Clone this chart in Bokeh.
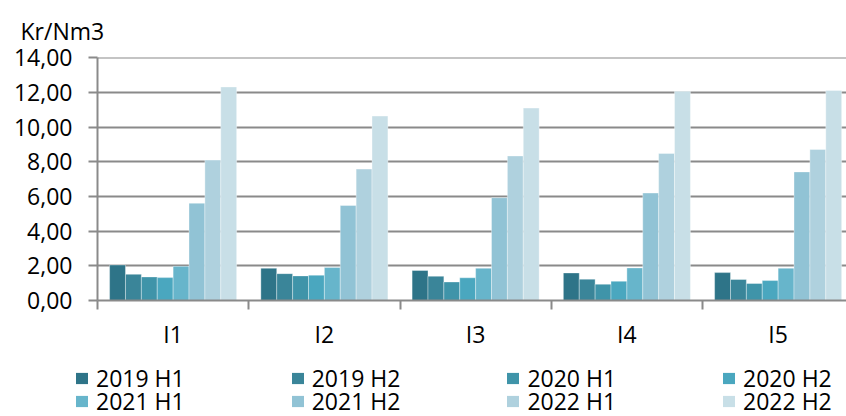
from bokeh.plotting import figure
from bokeh.layouts import column, row
from bokeh.models import (Range1d, FixedTicker, Legend, LegendItem,
                          ColumnDataSource)
from bokeh.embed import file_html
from bokeh.resources import INLINE

categories = ["I1", "I2", "I3", "I4", "I5"]
series_names = ["2019 H1", "2019 H2", "2020 H1", "2020 H2",
                "2021 H1", "2021 H2", "2022 H1", "2022 H2"]
s2019_h1 = [2.05, 1.86, 1.73, 1.59, 1.61]
s2019_h2 = [1.51, 1.55, 1.40, 1.23, 1.21]
s2020_h1 = [1.36, 1.42, 1.07, 0.94, 0.98]
s2020_h2 = [1.32, 1.46, 1.31, 1.11, 1.15]
s2021_h1 = [1.97, 1.90, 1.86, 1.88, 1.86]
s2021_h2 = [5.61, 5.48, 5.93, 6.20, 7.42]
s2022_h1 = [8.10, 7.58, 8.34, 8.48, 8.71]
s2022_h2 = [12.32, 10.64, 11.10, 12.07, 12.12]
y_ticks = [0, 2, 4, 6, 8, 10, 12, 14]
y_tick_labels = ["0,00", "2,00", "4,00", "6,00", "8,00", "10,00", "12,00", "14,00"]
y_title = "Kr/Nm3"

series_values = [s2019_h1, s2019_h2, s2020_h1, s2020_h2,
                 s2021_h1, s2021_h2, s2022_h1, s2022_h2]
colors = ["#2E7488", "#3A8599", "#3F94A9", "#4AA7BF",
          "#67B5CB", "#91C3D5", "#AFD1DE", "#C8DFE7"]

FONT = "Open Sans"
GRAY = "#8a8a8a"
TOP_H = 356
W = 846
H = 416

p = figure(width=W, height=TOP_H, output_backend="svg", toolbar_location=None,
           x_range=Range1d(0, 4.952), y_range=Range1d(0, 14.02),
           min_border_left=97, min_border_right=0, min_border_top=57,
           min_border_bottom=TOP_H - 300)
p.outline_line_color = None
p.xgrid.visible = False
p.ygrid.grid_line_color = GRAY
p.ygrid.grid_line_width = 2
p.ygrid.ticker = FixedTicker(ticks=y_ticks)

p.title.text = y_title
p.title.align = "left"
p.title.offset = -77
p.title.text_font = FONT
p.title.text_font_size = "23px"
p.title.text_font_style = "normal"
p.title.text_color = "#000000"
p.title.standoff = 22

bw = 0.105
n = len(series_names)
renderers = []
for j, (name, vals, col) in enumerate(zip(series_names, series_values, colors)):
    xs = [i + 0.5 + (j - (n - 1) / 2) * bw for i in range(len(categories))]
    src = ColumnDataSource(dict(x=xs, top=vals))
    r = p.vbar(x="x", top="top", width=bw, bottom=0, source=src,
               fill_color=col, line_color="white", line_alpha=0.35, line_width=1)
    renderers.append(r)

# y axis
yax = p.yaxis[0]
yax.ticker = FixedTicker(ticks=y_ticks, minor_ticks=[])
yax.major_label_overrides = {t: l for t, l in zip(y_ticks, y_tick_labels)}
yax.axis_line_color = GRAY
yax.axis_line_width = 2
yax.major_tick_line_color = GRAY
yax.major_tick_line_width = 2
yax.major_tick_out = 9
yax.major_tick_in = 0
yax.major_label_standoff = 16
yax.major_label_text_font = FONT
yax.major_label_text_font_size = "23px"
yax.major_label_text_color = "#000000"

# x axis
xax = p.xaxis[0]
centers = [i + 0.5 for i in range(len(categories))]
xax.ticker = FixedTicker(ticks=centers, minor_ticks=list(range(len(categories) + 1)))
xax.major_label_overrides = {c: l for c, l in zip(centers, categories)}
xax.axis_line_color = GRAY
xax.axis_line_width = 2
xax.major_tick_out = 0
xax.major_tick_in = 0
xax.minor_tick_line_color = GRAY
xax.minor_tick_line_width = 2
xax.minor_tick_out = 9
xax.minor_tick_in = 0
xax.major_label_standoff = 8
xax.major_label_text_font = FONT
xax.major_label_text_font_size = "23px"
xax.major_label_text_color = "#000000"

# legend figure (swatch renderers hold one point outside the visible range)
p2 = figure(width=W, height=H - TOP_H, output_backend="svg", toolbar_location=None,
            x_range=Range1d(0, 1), y_range=Range1d(0, 1),
            x_axis_location=None, y_axis_location=None,
            min_border_left=0, min_border_right=0, min_border_top=0,
            min_border_bottom=0)
p2.outline_line_color = None
p2.grid.visible = False
swatches = []
for name, col in zip(series_names, colors):
    sw = p2.vbar(x=[-5], top=[-5], bottom=-6, width=0.1, fill_color=col, line_color=None)
    swatches.append(sw)

def make_legend(idx, vy):
    items = [LegendItem(label=series_names[k], renderers=[swatches[k]]) for k in idx]
    return Legend(items=items, orientation="horizontal", location=(74, vy),
                  glyph_width=15, glyph_height=14, label_standoff=7, label_width=0,
                  spacing=105, padding=0, margin=0, border_line_color=None,
                  background_fill_alpha=0, label_text_font=FONT,
                  label_text_font_size="23px", label_text_color="#000000")

p2.add_layout(make_legend([0, 1, 2, 3], 22))
p2.add_layout(make_legend([4, 5, 6, 7], -1))

layout = column(p, row(p2), spacing=0)
open("out.html", "w").write(file_html(layout, INLINE))
